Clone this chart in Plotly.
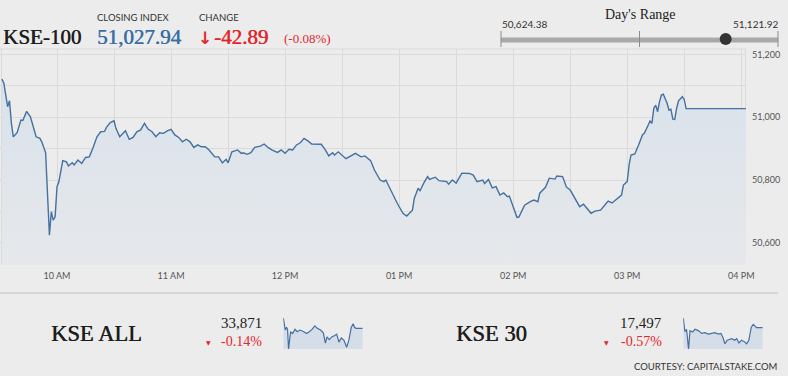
import plotly.graph_objects as go

W, H = 788, 376
DATE = "2024-01-01 "

# ---------------- data ----------------
kse100_times = [
    "09:31", "09:32", "09:34", "09:35", "09:36", "09:37", "09:39", "09:41", "09:42", "09:44",
    "09:46", "09:49", "09:51", "09:52", "09:54", "09:56", "09:57", "09:58", "09:59", "10:00",
    "10:01", "10:02", "10:03", "10:05", "10:06", "10:08", "10:09", "10:11", "10:13", "10:15",
    "10:17", "10:19", "10:21", "10:23", "10:25", "10:26", "10:28", "10:30", "10:31", "10:33",
    "10:35", "10:36", "10:38", "10:40", "10:42", "10:44", "10:46", "10:48", "10:50", "10:52",
    "10:54", "10:56", "10:58", "11:00", "11:02", "11:04", "11:06", "11:08", "11:10", "11:12",
    "11:14", "11:16", "11:18", "11:20", "11:23", "11:25", "11:27", "11:29", "11:30", "11:32",
    "11:35", "11:37", "11:38", "11:40", "11:42", "11:44", "11:47", "11:49", "11:51", "11:53",
    "11:56", "11:58", "12:00", "12:02", "12:04", "12:06", "12:08", "12:10", "12:12", "12:14",
    "12:19", "12:21", "12:23", "12:25", "12:26", "12:28", "12:32", "12:37", "12:40", "12:42",
    "12:45", "12:47", "12:50", "12:52", "12:53", "12:55", "12:57", "12:59", "13:02", "13:04",
    "13:07", "13:08", "13:10", "13:11", "13:13", "13:15", "13:16", "13:19", "13:21", "13:25",
    "13:26", "13:28", "13:30", "13:33", "13:37", "13:39", "13:41", "13:44", "13:45", "13:47",
    "13:49", "13:51", "13:53", "13:55", "13:57", "13:58", "14:00", "14:02", "14:03", "14:06",
    "14:09", "14:11", "14:13", "14:14", "14:17", "14:19", "14:22", "14:23", "14:26", "14:28",
    "14:30", "14:32", "14:35", "14:37", "14:39", "14:41", "14:43", "14:46", "14:49", "14:50",
    "14:52", "14:54", "14:55", "14:57", "14:58", "15:00", "15:01", "15:02", "15:04", "15:05",
    "15:06", "15:08", "15:09", "15:11", "15:12", "15:13", "15:14", "15:15", "15:16", "15:17",
    "15:18", "15:19", "15:21", "15:22", "15:23", "15:24", "15:25", "15:26", "15:27", "15:29",
    "15:30", "15:31", "16:03",
]
kse100_values = [
    51121.92, 51110, 51034, 51053, 50981, 50938, 50951, 50991, 50990, 51019,
    51002, 50938, 50933, 50922, 50887, 50624.38, 50699, 50672, 50683, 50779,
    50795, 50834, 50862, 50858, 50845, 50855, 50848, 50864, 50853, 50872,
    50874, 50904, 50938, 50954, 50955, 50968, 50983, 50989, 50965, 50938,
    50951, 50957, 50930, 50936, 50954, 50960, 50981, 50962, 50954, 50938,
    50951, 50949, 50957, 50962, 50944, 50936, 50922, 50930, 50922, 50904,
    50912, 50906, 50906, 50896, 50874, 50874, 50855, 50866, 50855, 50890,
    50896, 50885, 50887, 50882, 50887, 50904, 50908, 50915, 50904, 50896,
    50888, 50896, 50885, 50898, 50896, 50912, 50919, 50933, 50925, 50915,
    50914, 50898, 50877, 50887, 50880, 50890, 50868, 50885, 50874, 50877,
    50862, 50832, 50800, 50795, 50800, 50774, 50747, 50726, 50694, 50685,
    50704, 50742, 50774, 50766, 50791, 50811, 50802, 50809, 50798, 50795,
    50787, 50800, 50790, 50822, 50821, 50816, 50795, 50800, 50789, 50802,
    50775, 50779, 50752, 50759, 50747, 50749, 50715, 50681, 50682, 50720,
    50731, 50736, 50731, 50758, 50777, 50806, 50803, 50813, 50811, 50778,
    50768, 50745, 50715, 50723, 50710, 50694, 50701, 50704, 50726, 50733,
    50727, 50738, 50742, 50752, 50784, 50795, 50848, 50880, 50883, 50896,
    50912, 50944, 50949, 50975, 50988, 50981, 51029, 51039, 51018, 51050,
    51071, 51074, 51045, 51023, 51026, 50994, 50993, 51029, 51053, 51066,
    51057, 51027.94, 51027.94,
]
assert len(kse100_times) == len(kse100_values)

kseall_times = ["09:30", "09:35", "09:40", "09:46", "09:51", "09:56", "10:01", "10:06", "10:16", "10:28",
                "10:39", "10:52", "11:09", "11:25", "11:38", "11:52", "12:06", "12:18", "12:34", "12:48",
                "12:58", "13:06", "13:17", "13:30", "13:44", "13:54", "14:05", "14:17", "14:30", "14:43",
                "14:54", "15:06", "15:16", "15:22", "15:29", "16:03"]
kseall_values = [33961, 33922, 33856, 33880, 33862, 33691, 33796, 33841, 33826, 33862,
                 33841, 33856, 33844, 33826, 33841, 33862, 33892, 33871, 33856, 33832,
                 33742, 33796, 33772, 33796, 33808, 33820, 33751, 33787, 33766, 33706,
                 33766, 33880, 33910, 33880, 33871, 33871]

kse30_times = ["09:30", "09:38", "09:46", "09:56", "10:03", "10:16", "10:28", "10:44", "11:01", "11:17",
               "11:34", "11:50", "12:06", "12:23", "12:36", "12:46", "12:56", "13:07", "13:19", "13:30",
               "13:44", "13:54", "14:05", "14:17", "14:30", "14:43", "14:54", "15:06", "15:16", "15:26",
               "15:32", "16:03"]
kse30_values = [17539, 17479, 17490, 17404, 17484, 17478, 17490, 17484, 17472, 17475,
                17469, 17472, 17475, 17469, 17472, 17454, 17427, 17442, 17445, 17449,
                17442, 17449, 17430, 17442, 17437, 17427, 17442, 17499, 17511, 17499,
                17497, 17497]

hour_ticks = ["10:00", "11:00", "12:00", "13:00", "14:00", "15:00", "16:00"]
hour_labels = ["10 AM", "11 AM", "12 PM", "01 PM", "02 PM", "03 PM", "04 PM"]
y_ticks = [50600, 50800, 51000, 51200]
y_labels = ["50,600", "50,800", "51,000", "51,200"]

day_low, day_high, close_val = 50624.38, 51121.92, 51027.94

# ---------------- helpers ----------------
def t(s):
    return DATE + s

def px(x):
    return x / W

def py(y):
    return 1 - y / H

BG = "#ececec"
GRID = "#dadada"
LINE = "#44719f"
RED = "#e2262d"
BLUE = "#3a6ea5"
DARK = "#1e1e1e"
SERIF = "Liberation Serif"
SANS = "Lato"

fig = go.Figure()

fig.add_trace(go.Scatter(
    x=[t(s) for s in kse100_times], y=kse100_values,
    mode="lines", line=dict(color=LINE, width=1.4),
    fill="tozeroy",
    fillgradient=dict(type="vertical", start=50529, stop=51120,
                      colorscale=[[0, "#e6e8eb"], [1, "#d9e2eb"]]),
    hoverinfo="skip", xaxis="x", yaxis="y",
))

for times, vals, ax in [(kseall_times, kseall_values, "2"), (kse30_times, kse30_values, "3")]:
    fig.add_trace(go.Scatter(
        x=[t(s) for s in times], y=vals, mode="lines",
        line=dict(color=LINE, width=1.2), fill="tozeroy", fillcolor="#d4dde8",
        hoverinfo="skip", xaxis="x" + ax, yaxis="y" + ax,
    ))

x_range = [t("09:30"), t("16:02:30")]
main_dom_x = [0, px(746)]
main_dom_y = [py(265), py(49)]

layout = dict(
    width=W, height=H, autosize=False, margin=dict(l=0, r=0, t=0, b=0, autoexpand=False),
    paper_bgcolor=BG, plot_bgcolor="rgba(0,0,0,0)", showlegend=False,
    xaxis=dict(domain=main_dom_x, anchor="y", type="date", range=x_range, automargin=False,
               tickvals=[t(s) for s in hour_ticks], ticktext=hour_labels,
               showgrid=True, gridcolor=GRID, gridwidth=1, zeroline=False, showline=False,
               ticks="", ticklabelstandoff=4, tickfont=dict(family=SANS, size=9, color="#555"),
               minor=dict(dtick=1800000, tick0=t("09:30"), showgrid=True, gridcolor=GRID, ticks="")),
    yaxis=dict(domain=main_dom_y, anchor="x", side="right", range=[50529, 51218], automargin=False,
               tickvals=y_ticks, ticktext=y_labels, showgrid=True, gridcolor=GRID,
               zeroline=False, showline=False, ticks="", ticklabelstandoff=5,
               tickfont=dict(family=SANS, size=9, color="#555"),
               minor=dict(dtick=100, tick0=50500, showgrid=True, gridcolor=GRID, ticks="")),
)
for ax, x0 in [("2", 283.3), ("3", 683.3)]:
    vals = kseall_values if ax == "2" else kse30_values
    layout["xaxis" + ax] = dict(domain=[px(x0), px(x0 + 79.4)], anchor="y" + ax, type="date",
                                range=x_range, visible=False, automargin=False)
    layout["yaxis" + ax] = dict(domain=[py(349), py(318)], anchor="x" + ax,
                                range=[min(vals), max(vals)], visible=False, automargin=False)
fig.update_layout(**layout)

# ---------------- shapes ----------------
shapes = [
    dict(type="line", xref="paper", yref="paper", x0=px(0), x1=px(746), y0=py(49), y1=py(49),
         line=dict(color=GRID, width=1), layer="below"),
    dict(type="line", xref="paper", yref="paper", x0=px(1.5), x1=px(1.5), y0=py(49), y1=py(265),
         line=dict(color=GRID, width=1), layer="below"),
    dict(type="line", xref="paper", yref="paper", x0=px(745.5), x1=px(745.5), y0=py(49), y1=py(265),
         line=dict(color=GRID, width=1), layer="below"),
    dict(type="line", xref="paper", yref="paper", x0=px(0), x1=px(778), y0=py(293), y1=py(293),
         line=dict(color="#cfcfcf", width=1.5)),
    dict(type="line", xref="paper", yref="paper", x0=px(501), x1=px(778), y0=py(40), y1=py(40),
         line=dict(color="#a9a9a9", width=5)),
]
for xx in [501, 639.5, 778]:
    shapes.append(dict(type="line", xref="paper", yref="paper", x0=px(xx), x1=px(xx),
                       y0=py(31), y1=py(47), line=dict(color="#8c8c8c", width=1)))
frac = (close_val - day_low) / (day_high - day_low)
cx = 501 + frac * (778 - 501)
r = 6
shapes.append(dict(type="circle", xref="paper", yref="paper",
                   x0=px(cx - r), x1=px(cx + r), y0=py(39 + r), y1=py(39 - r),
                   fillcolor="#333333", line=dict(color="#333333", width=0)))
fig.update_layout(shapes=shapes)

# ---------------- texts ----------------
def ann(text, x, y, size, color, family=SERIF, xanchor="left", heavy=False):
    font = dict(family=family, size=size, color=color)
    if heavy:
        font["shadow"] = "0.6px 0 0 " + color
    return dict(text=text, x=px(x), y=py(y), xref="paper", yref="paper", showarrow=False,
                xanchor=xanchor, yanchor="middle", font=font)

anns = [
    ann("KSE-100", 1, 37, 21, DARK, heavy=True),
    ann("CLOSING INDEX", 95, 18, 9.5, "#333", SANS),
    ann("51,027.94", 95, 37, 21, BLUE, heavy=True),
    ann("CHANGE", 197, 18, 9.5, "#333", SANS),
    ann("<b>↓</b>", 196, 38, 17, RED, "DejaVu Sans"),
    ann("-42.89", 212, 37, 21, RED, heavy=True),
    ann("(-0.08%)", 282, 38, 13, RED),
    ann("Day's Range", 640, 14, 14, "#222", SERIF, "center"),
    ann("50,624.38", 500, 24, 10, "#333", SANS),
    ann("51,121.92", 780, 24, 10, "#333", SANS, "right"),
    ann("KSE ALL", 49, 333, 22.5, DARK, heavy=True),
    ann("33,871", 264, 323, 15, DARK, SERIF, "right"),
    ann("▼", 208, 342, 6, RED, "DejaVu Sans", "center"),
    ann("-0.14%", 264, 341, 14, RED, SERIF, "right"),
    ann("KSE 30", 454, 333, 22.5, DARK, heavy=True),
    ann("17,497", 664, 323, 15, DARK, SERIF, "right"),
    ann("▼", 606, 342, 6, RED, "DejaVu Sans", "center"),
    ann("-0.57%", 664, 341, 14, RED, SERIF, "right"),
    ann("COURTESY: CAPITALSTAKE.COM", 779, 366, 9.5, "#333", SANS, "right"),
]
fig.update_layout(annotations=anns)

fig.write_html("out.html", config={"responsive": False, "displayModeBar": False},
               post_script="document.body.style.margin='0';document.body.style.overflow='hidden';")
